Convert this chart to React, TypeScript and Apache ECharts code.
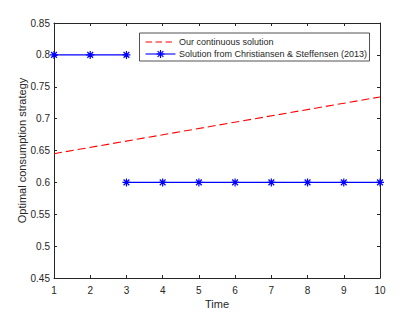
import React, { useEffect, useRef } from "react";
import * as echarts from "echarts";

const timeTicks = [1, 2, 3, 4, 5, 6, 7, 8, 9, 10];
const continuousX = [1, 10];
const continuousY = [0.645, 0.734];
const discreteHighX = [1, 2, 3];
const discreteHighY = [0.8, 0.8, 0.8];
const discreteLowX = [3, 4, 5, 6, 7, 8, 9, 10];
const discreteLowY = [0.6, 0.6, 0.6, 0.6, 0.6, 0.6, 0.6, 0.6];
const seriesNames = [
  "Our continuous solution",
  "Solution from Christiansen & Steffensen (2013)",
];

const FONT = "Liberation Sans, Arial, sans-serif";
const TXT = "#262626";
const AX = "#262626";
const RED = "#ff0000";
const BLUE = "#0000ff";
const ASTERISK =
  "path://M0,-5L0,5M-5,0L5,0M-3.6,-3.6L3.6,3.6M-3.6,3.6L3.6,-3.6";

function asteriskGroup(cx: number, cy: number, r: number) {
  const d = r * 0.72;
  const st = { stroke: BLUE, lineWidth: 1.2 };
  return {
    type: "group",
    children: [
      { type: "line", shape: { x1: cx - r, y1: cy, x2: cx + r, y2: cy }, style: st },
      { type: "line", shape: { x1: cx, y1: cy - r, x2: cx, y2: cy + r }, style: st },
      { type: "line", shape: { x1: cx - d, y1: cy - d, x2: cx + d, y2: cy + d }, style: st },
      { type: "line", shape: { x1: cx - d, y1: cy + d, x2: cx + d, y2: cy - d }, style: st },
    ],
  };
}

export default function App() {
  const ref = useRef<HTMLDivElement>(null);
  useEffect(() => {
    if (!ref.current) return;
    const chart = echarts.init(ref.current, null, { renderer: "svg" });
    const redData = continuousX.map((x, i) => [x, continuousY[i]]);
    const blueData: any[] = [
      ...discreteHighX.map((x, i) => [x, discreteHighY[i]]),
      "-",
      ...discreteLowX.map((x, i) => [x, discreteLowY[i]]),
    ];
    const axisCommon = {
      axisLine: { show: true, onZero: false, lineStyle: { color: AX, width: 1 } },
      axisTick: { show: true, inside: true, length: 3, lineStyle: { color: AX } },
      splitLine: { show: false },
    };
    const lx = 139.5;
    const ly = 33;
    const row1 = 42;
    const row2 = 54;
    chart.setOption({
      animation: false,
      backgroundColor: "#fff",
      textStyle: { fontFamily: FONT },
      grid: { left: 54, right: 39, top: 23, bottom: 35 },
      xAxis: [
        {
          type: "value",
          min: 1,
          max: 10,
          interval: 1,
          name: "Time",
          nameLocation: "middle",
          nameGap: 20,
          nameMoveOverlap: false,
          nameTextStyle: { fontSize: 11, color: TXT, fontFamily: FONT },
          axisLabel: { fontSize: 10, color: TXT, margin: 7, fontFamily: FONT },
          ...axisCommon,
        },
        {
          type: "value",
          position: "top",
          min: 1,
          max: 10,
          interval: 1,
          axisLabel: { show: false },
          ...axisCommon,
        },
      ],
      yAxis: [
        {
          type: "value",
          min: 0.45,
          max: 0.85,
          interval: 0.05,
          name: "Optimal consumption strategy",
          nameLocation: "middle",
          nameGap: 27,
          nameMoveOverlap: false,
          nameTextStyle: { fontSize: 11, color: TXT, fontFamily: FONT },
          axisLabel: { fontSize: 10, color: TXT, margin: 4, fontFamily: FONT },
          ...axisCommon,
        },
        {
          type: "value",
          position: "right",
          min: 0.45,
          max: 0.85,
          interval: 0.05,
          axisLabel: { show: false },
          ...axisCommon,
        },
      ],
      graphic: [
        {
          type: "group",
          z: 100,
          children: [
            {
              type: "rect",
              shape: { x: lx, y: ly, width: 230, height: 28 },
              style: { fill: "#fff", stroke: "#262626", lineWidth: 0.8 },
            },
            {
              type: "line",
              shape: { x1: 145.5, y1: row1, x2: 175.5, y2: row1 },
              style: { stroke: RED, lineWidth: 1.1, lineDash: [6.5, 3.5] },
            },
            {
              type: "text",
              x: 179,
              y: row1,
              style: {
                text: seriesNames[0],
                fill: TXT,
                fontSize: 9,
                fontFamily: FONT,
                verticalAlign: "middle",
              },
            },
            {
              type: "line",
              shape: { x1: 145.5, y1: row2, x2: 175.5, y2: row2 },
              style: { stroke: BLUE, lineWidth: 1.1 },
            },
            asteriskGroup(160.5, row2, 4),
            {
              type: "text",
              x: 179,
              y: row2,
              style: {
                text: seriesNames[1],
                fill: TXT,
                fontSize: 9,
                fontFamily: FONT,
                verticalAlign: "middle",
              },
            },
          ],
        },
      ],
      series: [
        {
          name: seriesNames[0],
          type: "line",
          data: redData,
          showSymbol: false,
          symbol: "none",
          lineStyle: { color: RED, width: 1.1, type: [8, 4] },
          itemStyle: { color: RED },
        },
        {
          name: seriesNames[1],
          type: "line",
          data: blueData,
          connectNulls: false,
          symbol: ASTERISK,
          symbolSize: 8,
          showAllSymbol: true,
          lineStyle: { color: BLUE, width: 1.1 },
          itemStyle: { color: BLUE, borderColor: BLUE, borderWidth: 1.2 },
        },
      ],
    });
    return () => chart.dispose();
  }, []);
  return (
    <div
      ref={ref}
      style={{ position: "fixed", left: 0, top: 0, width: 419, height: 314 }}
    />
  );
}
